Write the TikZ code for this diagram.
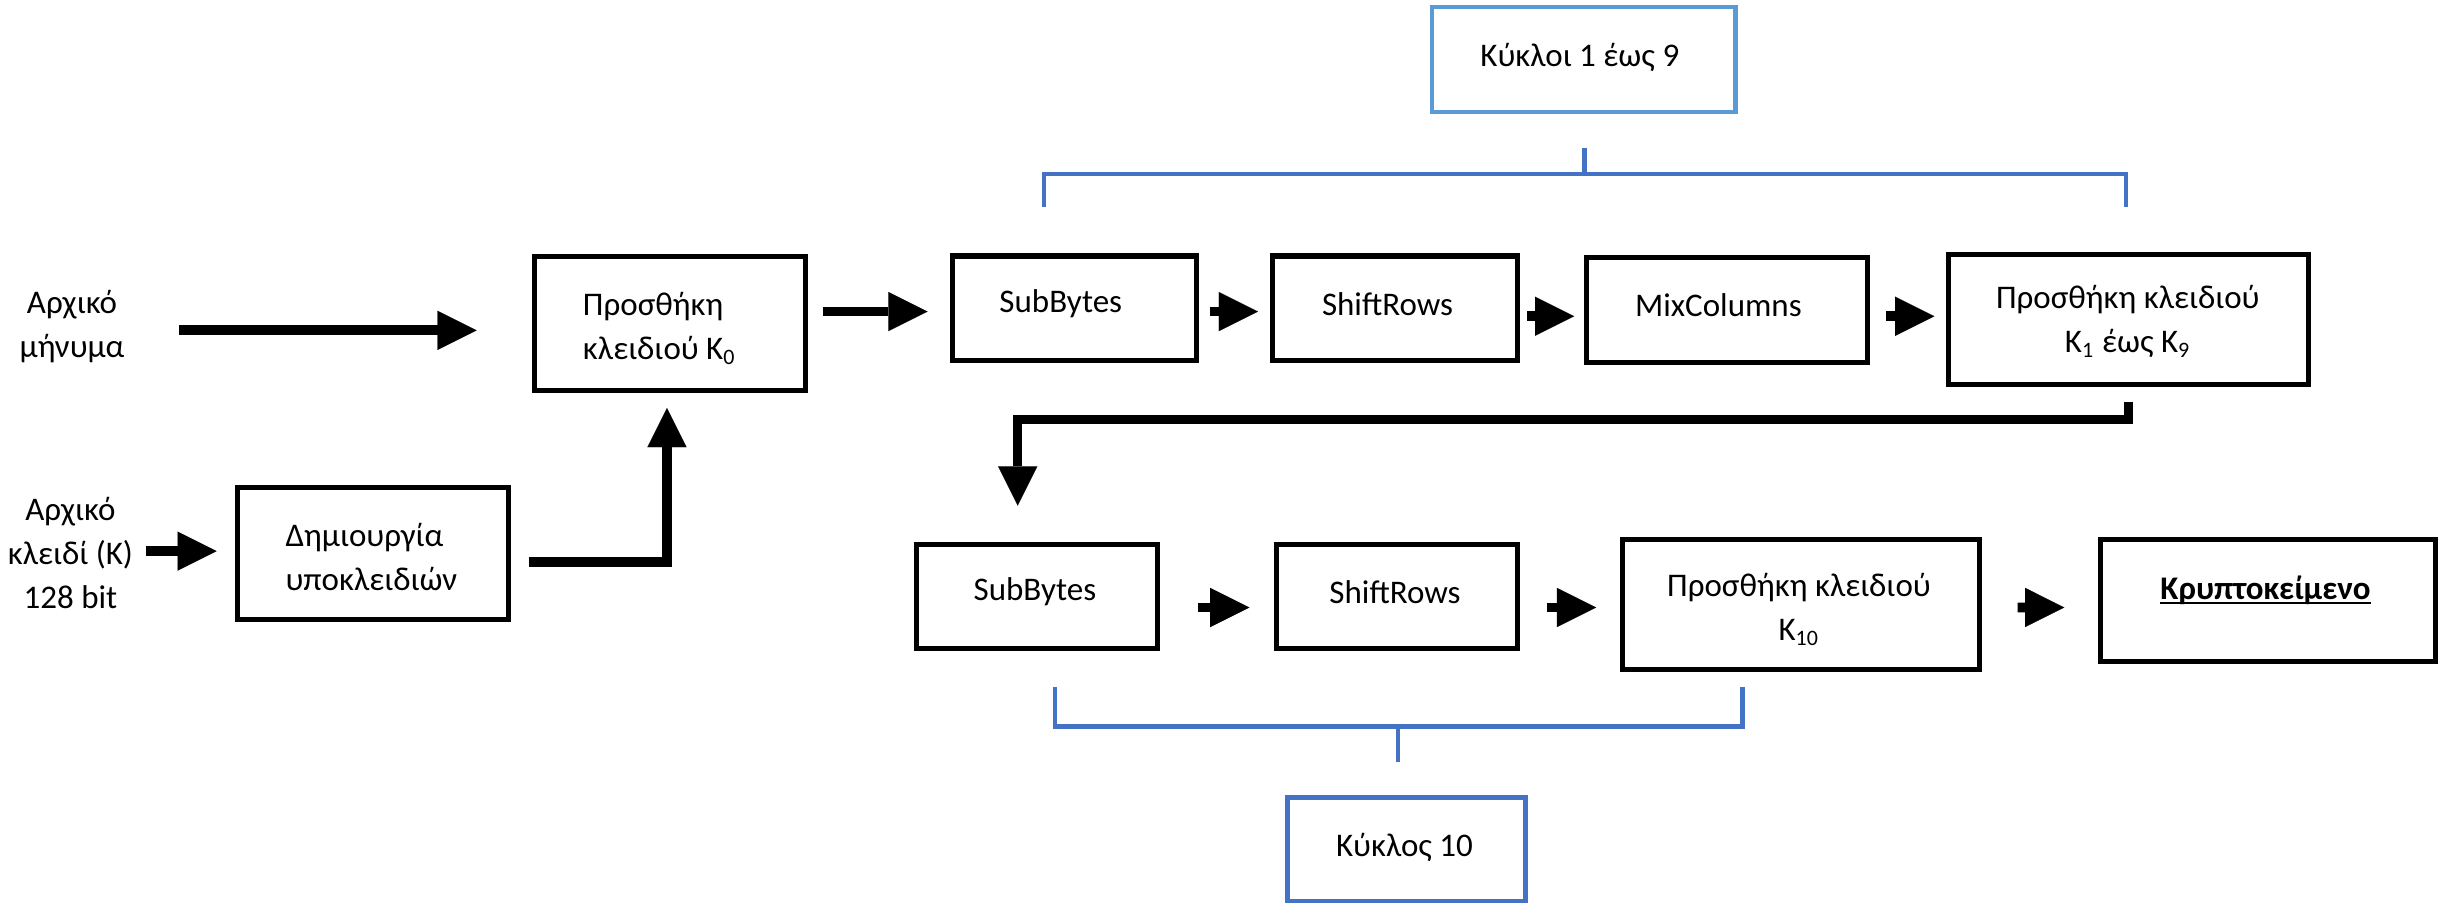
\documentclass[tikz,border=0pt]{standalone}
\usepackage{fontspec}
\setmainfont{Carlito}
\usetikzlibrary{arrows.meta,calc}
\definecolor{blueA}{HTML}{5B9BD5}
\definecolor{blueB}{HTML}{4472C4}
\newcommand\ulword[1]{\setbox0\hbox{#1}\rlap{\rule[-1.6pt]{\wd0}{0.8pt}}\box0}
\begin{document}
\begin{tikzpicture}[x=0.02cm,y=-0.02cm,
  box/.style={draw=black, line width=0.064cm, inner sep=0pt},
  rbox/.style={draw=#1, line width=0.06cm, inner sep=0pt},
  txt/.style={inner sep=0pt, font=\fontsize{12}{16}\selectfont, align=center},
  ltxt/.style={txt, anchor=west, align=left},
  arr/.style={line width=0.125cm, -{Triangle[length=0.5cm,width=0.5cm,line width=0.01pt]}},
  brk/.style={draw=blueB, line width=0.055cm}]
\useasboundingbox (0,0) rectangle (1568,578);

% boxes
\node[box, minimum width=3.46cm, minimum height=1.72cm] (k0) at (428,206.5) {};
\node[box, minimum width=3.46cm, minimum height=1.68cm] (gen) at (238,353.5) {};
\node[box, minimum width=3.12cm, minimum height=1.34cm] (sb1) at (686.5,197) {};
\node[box, minimum width=3.14cm, minimum height=1.34cm] (sr1) at (891,197) {};
\node[box, minimum width=3.58cm, minimum height=1.34cm] (mc) at (1103,198) {};
\node[box, minimum width=4.60cm, minimum height=1.66cm] (kA) at (1359.5,204) {};
\node[rbox=blueA, minimum width=3.88cm, minimum height=1.34cm] (r9) at (1011.5,38) {};
\node[box, minimum width=3.08cm, minimum height=1.34cm] (sb2) at (662.5,381) {};
\node[box, minimum width=3.08cm, minimum height=1.34cm] (sr2) at (892.5,381) {};
\node[box, minimum width=4.56cm, minimum height=1.66cm] (k10) at (1150.5,386) {};
\node[box, minimum width=4.28cm, minimum height=1.56cm] (ct) at (1448.5,383.5) {};
\node[rbox=blueB, minimum width=3.04cm, minimum height=1.32cm] (r10) at (898.5,542.5) {};

% texts
\node[txt] (msg) at (46,208.5) {Αρχικό\\μήνυμα};
\node[txt] (key) at (45,353) {Αρχικό\\κλειδί (K)\\128 bit};
\node[ltxt] (k0t) at (372,209.5) {Προσθήκη\\κλειδιού K\textsubscript{0}};
\node[ltxt] (gent) at (182,355.5) {Δημιουργία\\υποκλειδιών};
\node[ltxt] (sb1t) at (638,194) {SubBytes};
\node[ltxt] (sr1t) at (844,194) {ShiftRows};
\node[ltxt] (mct) at (1044,195) {MixColumns};
\node[txt] (kAt) at (1359,205.5) {Προσθήκη κλειδιού\\K\textsubscript{1} έως K\textsubscript{9}};
\node[txt] (r9t) at (1009,37) {Κύκλοι 1 έως 9};
\node[txt] (sb2t) at (661,378) {SubBytes};
\node[txt] (sr2t) at (891,378) {ShiftRows};
\node[txt] (k10t) at (1149,389) {Προσθήκη κλειδιού\\K\textsubscript{10}};
\node[txt] (ctt) at (1447,377) {\textbf{\ulword{Κρυπτοκείμενο}}};
\node[txt] (r10t) at (897,541) {Κύκλος 10};

% arrows
\draw[arr] ($(k0.west)+(-225.5,4.5)$) -- ($(k0.west)+(-35.5,4.5)$);
\draw[arr] ($(gen.west)+(-56.5,-1.5)$) -- ($(gen.west)+(-11.5,-1.5)$);
\draw[arr] ($(gen.east)+(11.5,5.5)$) -| ($(k0.south)+(-2,9.5)$);
\draw[arr] ($(k0.east)+(9.5,-7.5)$) -- ($(sb1.west)+(-14.5,2)$);
\draw[arr] ($(sb1.east)+(6.5,2)$) -- ($(sr1.west)+(-7.5,2)$);
\draw[arr] ($(sr1.east)+(4.5,5)$) -- ($(mc.west)+(-6.5,4)$);
\draw[arr] ($(mc.east)+(10.5,4)$) -- ($(kA.west)+(-7.5,-2)$);
\draw[arr, line width=0.11cm] ($(kA.south)+(0,9.5)$) |- ($(sb2.north)+(-12.5,-78)$) -- ($(sb2.north)+(-12.5,-23)$);
\draw[arr] ($(sb2.east)+(24,7)$) -- ($(sr2.west)+(-16,7)$);
\draw[arr] ($(sr2.east)+(17,7)$) -- ($(k10.west)+(-15.5,2)$);
\draw[arr] ($(k10.east)+(22.5,2)$) -- ($(ct.west)+(-21.5,4.5)$);

% brackets
\coordinate (b9c) at ($(r9.south)+(0.5,21.5)$);
\draw[brk] (b9c) -- ++(0,18);
\draw[brk] (667,132) -- (667,111) -- (1358,111) -- (1358,132);
\coordinate (b10c) at ($(r10.north)+(-5.5,-21.5)$);
\draw[brk] (b10c) -- ++(0,-23);
\draw[brk] (674,439) -- (674,464) -- (1113,464) -- (1113,439);
\end{tikzpicture}
\end{document}
